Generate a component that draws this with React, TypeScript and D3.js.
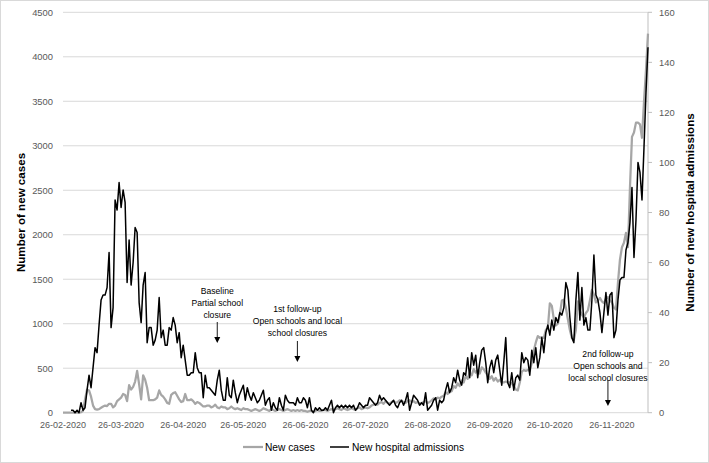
import * as d3 from 'd3'

const width = 709
const height = 463
const margin = { top: 12.3, right: 61, bottom: 50.3, left: 63 }

const startDate = '26-02-2020'

// daily values from 26-02-2020 to 14-12-2020
const newCases = [
  0, 0, 0, 0, 0, 0, 0, 0, 0, 5,
  20, 150, 260, 250, 180, 80, 40, 35, 40, 55,
  70, 80, 75, 100, 100, 60, 80, 130, 150, 170,
  210, 200, 130, 310, 260, 290, 350, 470, 320, 150,
  420, 370, 280, 140, 140, 140, 150, 170, 250, 200,
  180, 150, 110, 100, 200, 220, 230, 190, 150, 120,
  130, 210, 140, 140, 150, 130, 100, 120, 110, 90,
  70, 70, 80, 80, 60, 70, 90, 60, 50, 70,
  60, 60, 40, 50, 70, 50, 40, 50, 40, 30,
  50, 40, 40, 30, 20, 30, 40, 30, 20, 30,
  50, 40, 30, 20, 40, 30, 20, 30, 40, 30,
  20, 30, 40, 30, 20, 30, 20, 30, 20, 30,
  20, 20, 10, 20, 20, 10, 20, 30, 20, 20,
  30, 30, 20, 30, 40, 30, 40, 50, 40, 30,
  50, 40, 30, 40, 50, 40, 30, 50, 60, 40,
  50, 60, 50, 60, 80, 90, 100, 90, 110, 120,
  100, 130, 110, 100, 120, 130, 110, 120, 140, 130,
  120, 110, 130, 140, 120, 130, 110, 120, 100, 110,
  120, 130, 110, 120, 140, 160, 150, 170, 160, 180,
  190, 230, 210, 260, 240, 300, 280, 330, 300, 360,
  340, 410, 380, 450, 420, 490, 450, 480, 440, 510,
  490, 450, 420, 380, 410, 360, 390, 350, 370, 340,
  340, 350, 340, 340, 330, 300, 260, 250, 340, 460,
  480, 470, 480, 470, 560, 700, 790, 860, 840, 850,
  840, 930, 950, 1230, 1200, 1050, 980, 1000, 1100, 1260,
  1270, 1180, 1050, 930, 840, 820, 930, 1250, 1150, 1100,
  1070, 1120, 1150, 1260, 1380, 1330, 1240, 1260, 1290, 1250,
  1230, 1280, 1300, 1260, 1240, 1180, 1160, 1460, 1720, 1860,
  1910, 2020, 1860, 2530, 3100, 3150, 3260, 3260, 3240, 3090,
  3490, 3850, 4260,
]

const newAdmissions: (number | null)[] = [
  null, null, null, null, 1, 1, 0, 1, 0, 4,
  1, 2, 9, 15, 10, 18, 26, 24, 35, 45,
  47, 47, 50, 64, 34, 42, 85, 81, 92, 82,
  89, 84, 52, 69, 51, 60, 74, 72, 44, 36,
  51, 56, 28, 34, 34, 27, 29, 33, 46, 30,
  33, 27, 27, 34, 33, 38, 35, 28, 32, 22,
  27, 21, 15, 15, 16, 16, 24, 18, 16, 16,
  6, 15, 10, 10, 9, 8, 7, 13, 17, 9,
  5, 5, 14, 7, 6, 13, 8, 4, 7, 9,
  11, 5, 10, 7, 5, 8, 6, 4, 5, 7,
  9, 3, 5, 6, 1, 4, 2, 1, 6, 3,
  1, 7, 5, 4, 4, 4, 3, 6, 4, 4,
  6, 5, 2, 6, 1, 0, 2, 1, 2, 1,
  1, 2, 1, 3, 5, 0, 2, 3, 2, 3,
  2, 3, 2, 3, 2, 3, 1, 2, 4, 3,
  2, 3, 3, 6, 5, 4, 3, 4, 7, 5,
  6, 5, 4, 3, 4, 5, 3, 2, 4, 5,
  3, 5, 8, 1, 4, 7, 6, 5, 3, 4,
  3, 8, 1, 2, 3, 5, 6, 1, 5, 4,
  5, 9, 12, 8, 10, 14, 12, 17, 13, 11,
  16, 15, 22, 14, 24, 19, 23, 14, 20, 25,
  26, 20, 12, 18, 21, 16, 21, 23, 17, 11,
  20, 30, 12, 10, 16, 9, 14, 15, 13, 24,
  20, 22, 21, 15, 25, 20, 26, 18, 22, 30,
  24, 32, 35, 31, 37, 33, 38, 36, 40, 39,
  42, 52, 49, 38, 30, 28, 45, 56, 37, 50,
  35, 38, 33, 33, 45, 63, 47, 45, 40, 32,
  40, 48, 39, 47, 48, 30, 33, 45, 53, 54,
  54, 65, 68, 76, 90, 62, 77, 100, 96, 85,
  106, 128, 146,
]

const caseTicks = [0, 500, 1000, 1500, 2000, 2500, 3000, 3500, 4000, 4500]
const admissionTicks = [0, 20, 40, 60, 80, 100, 120, 140, 160]
const dateTicks = [
  '26-02-2020', '26-03-2020', '26-04-2020', '26-05-2020', '26-06-2020',
  '26-07-2020', '26-08-2020', '26-09-2020', '26-10-2020', '26-11-2020',
]

const annotations = [
  { date: '13-05-2020', lines: ['Baseline', 'Partial school', 'closure'], textY: 291, y1: 322, y2: 343 },
  { date: '22-06-2020', lines: ['1st follow-up', 'Open schools and local', 'school closures'], textY: 309, y1: 341, y2: 362 },
  { date: '24-11-2020', lines: ['2nd follow-up', 'Open schools and', 'local school closures'], textY: 354, y1: 380, y2: 406 },
]

const parse = d3.timeParse('%d-%m-%Y')
const day0 = parse(startDate) as Date
const dayDate = (i: number) => d3.timeDay.offset(day0, i)

function App() {
  const innerRight = width - margin.right
  const innerBottom = height - margin.bottom

  const x = d3.scaleTime()
    .domain([day0, dayDate(newCases.length - 1)])
    .range([margin.left, innerRight])
  const yCases = d3.scaleLinear().domain([0, 4500]).range([innerBottom, margin.top])
  const yAdm = d3.scaleLinear().domain([0, 160]).range([innerBottom, margin.top])

  const caseLine = d3.line<number>()
    .x((_, i) => x(dayDate(i)))
    .y(d => yCases(d))
  const admLine = d3.line<number | null>()
    .defined(d => d !== null)
    .x((_, i) => x(dayDate(i)))
    .y(d => yAdm(d as number))

  const font = '"Liberation Sans", Arial, sans-serif'
  const midY = (margin.top + innerBottom) / 2

  return (
    <svg width={width} height={height} style={{ position: 'absolute', left: 0, top: 0 }} fontFamily={font}>
      <rect x={0.5} y={0.5} width={width - 1} height={height - 1} fill="#fff" stroke="#d9d9d9" />

      {caseTicks.map(t => (
        <g key={t}>
          {t > 0 && (
            <line x1={margin.left} x2={innerRight} y1={yCases(t)} y2={yCases(t)} stroke="#d9d9d9" strokeWidth={1} />
          )}
          <text x={53} y={yCases(t)} dy="0.35em" textAnchor="end" fontSize={9.4} fill="#595959">{t}</text>
        </g>
      ))}
      <line x1={margin.left} x2={innerRight} y1={innerBottom} y2={innerBottom} stroke="#d9d9d9" />

      <line x1={innerRight} x2={innerRight} y1={margin.top} y2={innerBottom} stroke="#bfbfbf" />
      {admissionTicks.map(t => (
        <g key={t}>
          <line x1={innerRight} x2={innerRight + 4} y1={yAdm(t)} y2={yAdm(t)} stroke="#bfbfbf" />
          <text x={659} y={yAdm(t)} dy="0.35em" fontSize={9.4} fill="#595959">{t}</text>
        </g>
      ))}

      {dateTicks.map(t => (
        <text key={t} x={x(parse(t) as Date)} y={428} textAnchor="middle" fontSize={9} fill="#595959">{t}</text>
      ))}

      <path d={caseLine(newCases) ?? ''} fill="none" stroke="#a6a6a6" strokeWidth={2.25} strokeLinejoin="round" />
      <path d={admLine(newAdmissions) ?? ''} fill="none" stroke="#000" strokeWidth={1.5} strokeLinejoin="round" />

      <text transform={`translate(25,${midY}) rotate(-90)`} textAnchor="middle" fontSize={11.6} fontWeight="bold" fill="#000">
        Number of new cases
      </text>
      <text transform={`translate(694,${midY}) rotate(-90)`} textAnchor="middle" fontSize={11.6} fontWeight="bold" fill="#000">
        Number of new hospital admissions
      </text>

      {annotations.map(a => {
        const ax = x(parse(a.date) as Date)
        return (
          <g key={a.date}>
            {a.lines.map((l, i) => (
              <text key={l} x={ax} y={a.textY + i * 11.8} dy="0.35em" textAnchor="middle" fontSize={8.6} fill="#000">{l}</text>
            ))}
            <line x1={ax} x2={ax} y1={a.y1} y2={a.y2 - 5} stroke="#000" strokeWidth={0.9} />
            <path d={`M${ax - 3},${a.y2 - 6}L${ax + 3},${a.y2 - 6}L${ax},${a.y2}Z`} fill="#000" />
          </g>
        )
      })}

      <g>
        <line x1={243} x2={263} y1={447} y2={447} stroke="#a6a6a6" strokeWidth={2.25} />
        <text x={265} y={447} dy="0.35em" fontSize={10.2} fill="#000">New cases</text>
        <line x1={330} x2={349} y1={447} y2={447} stroke="#000" strokeWidth={1.5} />
        <text x={352} y={447} dy="0.35em" fontSize={10.2} fill="#000">New hospital admissions</text>
      </g>
    </svg>
  )
}

export default App
